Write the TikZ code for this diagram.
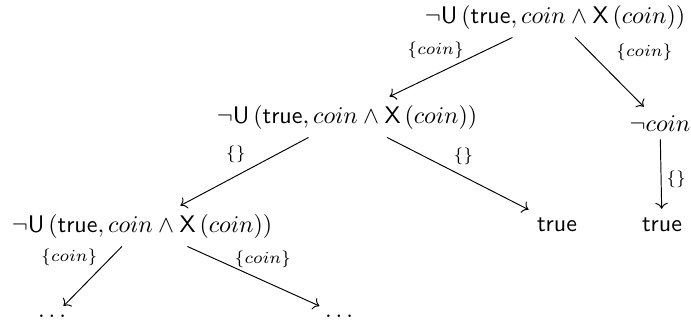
\documentclass[tikz,border=0pt]{standalone}
\usepackage{amsmath,amssymb}
\usetikzlibrary{arrows.meta, positioning}
\tikzset{
  state/.style={anchor=base},
  lbl/.style={font=\scriptsize, inner sep=2pt},
  trans/.style={->}
}
\newcommand{\untilf}{\neg\mathsf{U}\left(\mathsf{true}, coin \wedge \mathsf{X}\left(coin\right)\right)}

\begin{document}
\begin{tikzpicture}[x=0.4167pt, y=-0.4167pt]
  \useasboundingbox (0,0) rectangle (691,322);
  % states
  \node[state] (root) at (555,23) {$\untilf$};
  \node[state] (n1) at (347,123) {$\untilf$};
  \node[state] (ncoin) at (660,131) {$\neg coin$};
  \node[state] (n2) at (142,232) {$\untilf$};
  \node[state] (t1) at (557,231) {$\mathsf{true}$};
  \node[state] (t2) at (662,231) {$\mathsf{true}$};
  \node[state] (d1) at (54,317) {$\dots$};
  \node[state] (d2) at (341,317) {$\dots$};
  % transitions
  \draw[trans] (root) -- node[lbl, above left, pos=0.45, xshift=5pt] {$\{coin\}$} (n1);
  \draw[trans] (root) -- node[lbl, above right, pos=0.45, xshift=2pt, yshift=1pt] {$\{coin\}$} (ncoin);
  \draw[trans] (n1) -- node[lbl, above left, pos=0.45] {$\{\}$} (n2);
  \draw[trans] (n1) -- node[lbl, above right, pos=0.45, xshift=-1pt] {$\{\}$} (t1);
  \draw[trans] (ncoin) -- node[lbl, right, yshift=-2pt] {$\{\}$} (t2);
  \draw[trans] (n2) -- node[lbl, above left, pos=0.45, xshift=3pt, yshift=1pt] {$\{coin\}$} (d1);
  \draw[trans] (n2) -- node[lbl, above right, pos=0.4, xshift=-4.5pt, yshift=-1pt] {$\{coin\}$} (d2);
\end{tikzpicture}
\end{document}
